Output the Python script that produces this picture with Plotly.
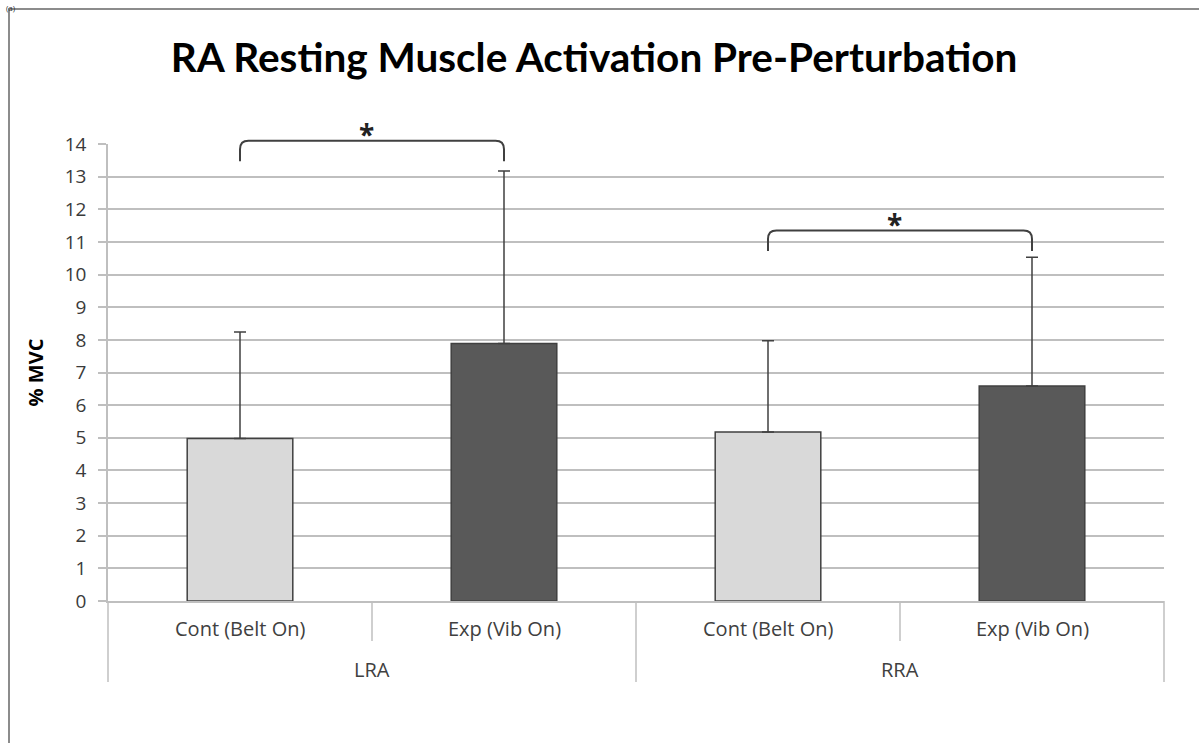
import plotly.graph_objects as go

# data
groups = ["LRA", "RRA"]
conditions = ["Cont (Belt On)", "Exp (Vib On)"]
means = [4.98, 7.89, 5.18, 6.59]
sd_plus = [3.26, 5.28, 2.79, 3.94]
bar_colors = ["#d9d9d9", "#595959", "#d9d9d9", "#595959"]
# significance brackets: (left bar, right bar, bracket top value)
brackets = [(0, 1, 14.1), (2, 3, 11.35)]
y_ticks = list(range(0, 15))

W, H = 1199, 743
L, R, T, B = 108, 35, 144, 142
plot_w, plot_h = W - L - R, H - T - B
ymax = 14
ncat = len(groups) * len(conditions)

def px_x(px):
    return (px - L) / plot_w

def px_y(px):
    return (H - B - px) / plot_h

def cat_x(i):
    # category index -> paper x
    return (i + 0.5) / ncat

def val_y(v):
    return v / ymax

FONT = "Open Sans"
grey_line = "#bfbfbf"
dark = "#404040"

fig = go.Figure()
fig.add_trace(go.Bar(
    x=list(range(ncat)), y=means, width=0.4,
    marker=dict(color=bar_colors, line=dict(color=dark, width=1.5)),
    error_y=dict(type="data", symmetric=False, array=sd_plus,
                 arrayminus=[0] * ncat, color=dark, thickness=1.5, width=6),
    showlegend=False, hoverinfo="skip",
))

shapes = []
annotations = []

# category table under the plot
for k in range(ncat + 1):
    outer = k % len(conditions) == 0
    depth = 81 if outer else 40
    shapes.append(dict(type="line", xref="paper", yref="paper",
                       x0=k / ncat, x1=k / ncat, y0=0, y1=-depth / plot_h,
                       line=dict(color=grey_line, width=1.5)))
for i in range(ncat):
    annotations.append(dict(text=conditions[i % len(conditions)], xref="paper", yref="paper",
                            x=cat_x(i), y=-27 / plot_h, xanchor="center", yanchor="middle",
                            showarrow=False,
                            font=dict(family=FONT, size=20, color="#404040")))
for g, name in enumerate(groups):
    annotations.append(dict(text=name, xref="paper", yref="paper",
                            x=(g * 2 + 1) / ncat, y=-68 / plot_h, xanchor="center",
                            yanchor="middle", showarrow=False,
                            font=dict(family=FONT, size=20, color="#404040")))

# significance brackets
drop = 0.63
r = 0.008
for a, b, top in brackets:
    xa, xb = cat_x(a), cat_x(b)
    yt, yb = val_y(top), val_y(top - drop)
    ry = r * plot_w / plot_h
    path = (f"M {xa},{yb} L {xa},{yt - ry} Q {xa},{yt} {xa + r},{yt} "
            f"L {xb - r},{yt} Q {xb},{yt} {xb},{yt - ry} L {xb},{yb}")
    shapes.append(dict(type="path", xref="paper", yref="paper", path=path,
                       line=dict(color=dark, width=2)))
    annotations.append(dict(text="<b>*</b>", xref="paper", yref="paper",
                            x=(xa + xb) / 2 - 0.005, y=val_y(top + 0.2), xanchor="center",
                            yanchor="middle", showarrow=False,
                            font=dict(family=FONT, size=28, color="#222222")))

# outer frame (cropped on right and bottom)
shapes.append(dict(type="rect", xref="paper", yref="paper",
                   x0=px_x(9), x1=px_x(W + 20), y0=px_y(H + 20), y1=px_y(9),
                   line=dict(color="#8c8c8c", width=2)))
annotations.append(dict(text="(a)", xref="paper", yref="paper",
                        x=px_x(4), y=px_y(0), xanchor="left", yanchor="top",
                        showarrow=False, font=dict(family=FONT, size=8, color="#333333")))

fig.update_layout(
    width=W, height=H,
    margin=dict(l=L, r=R, t=T, b=B),
    paper_bgcolor="white", plot_bgcolor="white",
    title=dict(text="<b>RA Resting Muscle Activation Pre-Perturbation</b>",
               xref="container", yref="container", x=594 / W, y=1 - 58 / H,
               xanchor="center", yanchor="middle",
               font=dict(family="Lato", size=40.5, color="#000000")),
    shapes=shapes, annotations=annotations,
    bargap=0.6,
)
fig.update_xaxes(range=[-0.5, ncat - 0.5], showticklabels=False, showgrid=False,
                 zeroline=False, showline=True, linecolor=grey_line, linewidth=1.5,
                 ticks="", fixedrange=True)
fig.update_yaxes(range=[0, ymax], tickvals=y_ticks, showgrid=True, gridcolor=grey_line,
                 gridwidth=1.5, zeroline=False, showline=True, linecolor=grey_line,
                 linewidth=1.5, ticks="outside", ticklen=8, tickcolor=grey_line,
                 tickwidth=1.5, ticklabelstandoff=8,
                 tickfont=dict(family=FONT, size=19, color="#3a3a3a"),
                 title=dict(text="<b>% MVC</b>", standoff=16,
                            font=dict(family=FONT, size=20, color="#000000")),
                 fixedrange=True)

# page body has a default 8px margin; remove it so the figure fills the window
fig.write_html("out.html", config={"displayModeBar": False},
               post_script="document.body.style.margin='0px';")
